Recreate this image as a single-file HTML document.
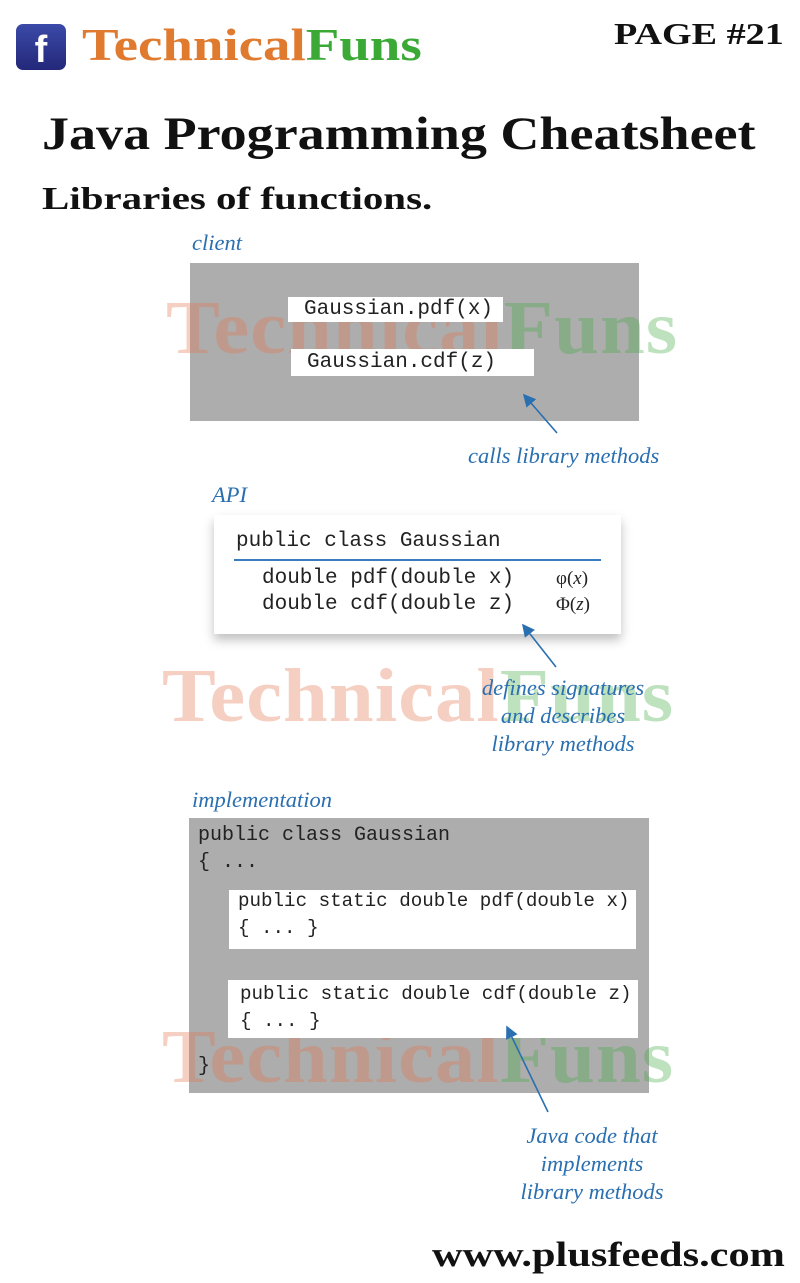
<!DOCTYPE html>
<html><head><meta charset="utf-8"><style>
body{margin:0;width:800px;height:1283px;background:#fff;position:relative;overflow:hidden;font-family:"Liberation Serif",serif}
div,span{position:absolute;white-space:nowrap}
.mono{font-family:"Liberation Mono",monospace;color:#222;z-index:3}
.cap{font-family:"Liberation Serif",serif;font-style:italic;color:#2a6fb0;font-size:22.5px;line-height:28px;text-align:center;z-index:3}
.gray{background:#adadad;z-index:0}
.wb{background:#fff;z-index:2}
.wm{font-family:"Liberation Serif",serif;font-weight:bold;font-size:76px;line-height:76px;letter-spacing:1px;transform:scaleX(1.06);transform-origin:0 0;z-index:1}
.wm .o{position:static;color:rgba(225,120,80,0.35)}.wm .g{position:static;color:rgba(70,170,70,0.35)}
.sx{transform-origin:0 0}
</style></head><body>
<div style="left:16px;top:24px;width:50px;height:46px;border-radius:7px;background:linear-gradient(#3b4aa8,#23287a);color:#fff;font:bold 38px 'Liberation Sans',sans-serif;text-align:center;line-height:52px">f</div>
<div class="sx" style="left:82px;top:20px;font-weight:bold;font-size:45px;line-height:50px;transform:scaleX(1.22)"><span style="position:static;color:#e07a2f">Technical</span><span style="position:static;color:#3aa935">Funs</span></div>
<div class="sx" style="left:614px;top:14px;font-weight:bold;font-size:31px;line-height:40px;color:#111;transform:scaleX(1.23)">PAGE #21</div>
<div class="sx" style="left:42px;top:104px;font-weight:bold;font-size:47px;line-height:60px;color:#111;transform:scaleX(1.15)">Java Programming Cheatsheet</div>
<div class="sx" style="left:42px;top:176px;font-weight:bold;font-size:32px;line-height:44px;color:#111;transform:scaleX(1.28)">Libraries of functions.</div>

<div class="cap" style="left:192px;top:229px;text-align:left">client</div>
<div class="gray" style="left:190px;top:263px;width:449px;height:158px"></div>
<div class="wb" style="left:288px;top:297px;width:215px;height:25px"></div>
<div class="mono" style="left:304px;top:296px;font-size:21px;line-height:27px">Gaussian.pdf(x)</div>
<div class="wb" style="left:291px;top:349px;width:243px;height:27px"></div>
<div class="mono" style="left:307px;top:349px;font-size:21px;line-height:27px">Gaussian.cdf(z)</div>
<div class="cap" style="left:468px;top:442px;text-align:left">calls library methods</div>

<div class="cap" style="left:212px;top:481px;text-align:left">API</div>
<div class="wb" style="left:214px;top:515px;width:407px;height:119px;box-shadow:0 6px 10px rgba(0,0,0,0.25)"></div>
<div class="mono" style="left:236px;top:528px;font-size:21px;line-height:27px">public class Gaussian</div>
<div style="left:234px;top:559px;width:367px;height:2px;background:#3b7bbf;z-index:3"></div>
<div class="mono" style="left:262px;top:565px;font-size:21px;line-height:27px">double pdf(double x)</div>
<div class="mono" style="left:262px;top:591px;font-size:21px;line-height:27px">double cdf(double z)</div>
<div style="left:556px;top:566px;font-size:19px;line-height:26px;color:#222;z-index:3">φ(<i>x</i>)</div>
<div style="left:556px;top:592px;font-size:19px;line-height:26px;color:#222;z-index:3">Φ(<i>z</i>)</div>
<div class="cap" style="left:463px;top:674px;width:200px">defines signatures<br>and describes<br>library methods</div>

<div class="cap" style="left:192px;top:786px;text-align:left">implementation</div>
<div class="gray" style="left:189px;top:818px;width:460px;height:275px"></div>
<div class="mono" style="left:198px;top:822px;font-size:20px;line-height:27px">public class Gaussian</div>
<div class="mono" style="left:198px;top:849px;font-size:20px;line-height:27px">{  ...</div>
<div class="wb" style="left:229px;top:890px;width:407px;height:59px"></div>
<div class="mono" style="left:238px;top:888px;font-size:19.2px;line-height:27px">public static double pdf(double x)<br>{  ...  }</div>
<div class="wb" style="left:228px;top:980px;width:410px;height:58px"></div>
<div class="mono" style="left:240px;top:981px;font-size:19.2px;line-height:27px">public static double cdf(double z)<br>{ ...  }</div>
<div class="mono" style="left:198px;top:1053px;font-size:20px;line-height:27px">}</div>
<div class="cap" style="left:492px;top:1122px;width:200px">Java code that<br>implements<br>library methods</div>

<div class="wm" style="left:166px;top:290px"><span class="o">Technical</span><span class="g">Funs</span></div>
<div class="wm" style="left:162px;top:658px"><span class="o">Technical</span><span class="g">Funs</span></div>
<div class="wm" style="left:162px;top:1019px"><span class="o">Technical</span><span class="g">Funs</span></div>

<svg style="position:absolute;left:0;top:0;z-index:4" width="800" height="1283">
<defs><marker id="ah" markerWidth="8" markerHeight="8" refX="7" refY="4" orient="auto"><path d="M0,0 L8,4 L0,8 Z" fill="#2a6fb0"/></marker></defs>
<line x1="557" y1="433" x2="524" y2="395" stroke="#2a6fb0" stroke-width="1.6" marker-end="url(#ah)"/>
<line x1="556" y1="667" x2="523" y2="625" stroke="#2a6fb0" stroke-width="1.6" marker-end="url(#ah)"/>
<line x1="548" y1="1112" x2="507" y2="1027" stroke="#2a6fb0" stroke-width="1.6" marker-end="url(#ah)"/>
</svg>

<div class="sx" style="left:432px;top:1232px;font-weight:bold;font-size:35px;line-height:46px;color:#111;transform:scaleX(1.21)">www.plusfeeds.com</div>
</body></html>
